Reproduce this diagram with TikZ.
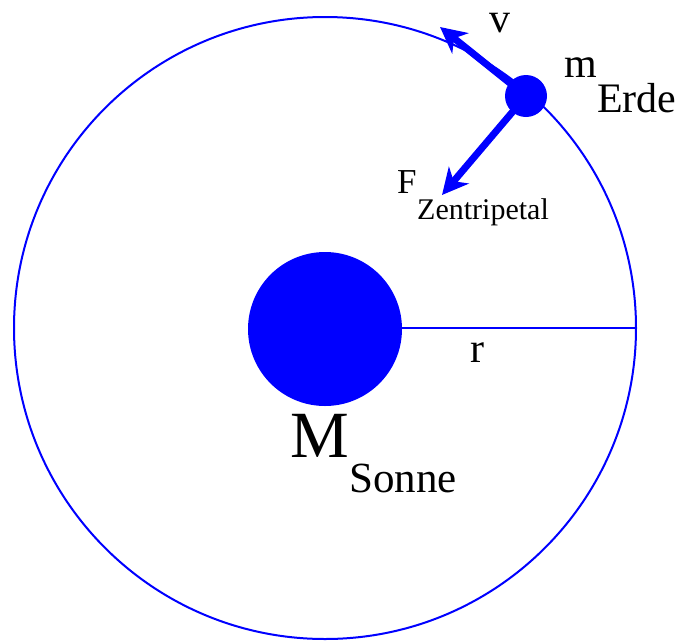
\documentclass[tikz,border=0pt]{standalone}
\usepackage{fontspec}
\setmainfont{Liberation Serif}
\usetikzlibrary{arrows.meta,positioning}

\begin{document}
\begin{tikzpicture}[x=1pt, y=-1pt]

    \useasboundingbox (0,0) rectangle (689,641);

    % Estilos
    \tikzstyle{bahn}=[draw=blue, line width=2pt]
    \tikzstyle{koerper}=[circle, fill=blue, inner sep=0pt]
    \tikzstyle{vektor}=[draw=blue, line width=7pt, -{Stealth[length=26pt, width=26pt, inset=8pt]}]
    \tikzstyle{etiqueta}=[anchor=base west, inner sep=0pt, text=black]

    % Sol y Tierra
    \node[koerper, minimum size=154pt] (sonne) at (325,329) {};
    \node[koerper, minimum size=42pt] (erde) at (526,96) {};

    % Orbita y radio
    \draw[bahn] (325,328) circle[radius=311pt];
    \coordinate (rand) at (636,328);
    \draw[bahn] (sonne.east |- rand) -- (rand);

    % Vectores
    \coordinate (vspitze) at (440,27);
    \coordinate (fspitze) at (442,195);
    \draw[vektor] (erde.center) -- (vspitze);
    \draw[vektor] (erde.center) -- (fspitze);

    % Etiquetas
    \node[etiqueta, font=\fontsize{42}{42}\selectfont] (v) at (489,32) {v};
    \node[etiqueta, font=\fontsize{42}{42}\selectfont] (m) at (564,77) {m};
    \node[etiqueta, font=\fontsize{42}{42}\selectfont] (erdetext) at (597,112) {Erde};
    \node[etiqueta, font=\fontsize{35}{35}\selectfont] (f) at (397,193) {F};
    \node[etiqueta, font=\fontsize{30}{30}\selectfont] (zentri) at (417,219) {Zentripetal};
    \node[etiqueta, font=\fontsize{42}{42}\selectfont] (r) at (470,362) {r};
    \node[etiqueta, font=\fontsize{66}{66}\selectfont] (mgross) at (290,457) {M};
    \node[etiqueta, font=\fontsize{43}{43}\selectfont] (sonnetext) at (349,492) {Sonne};
\end{tikzpicture}
\end{document}
